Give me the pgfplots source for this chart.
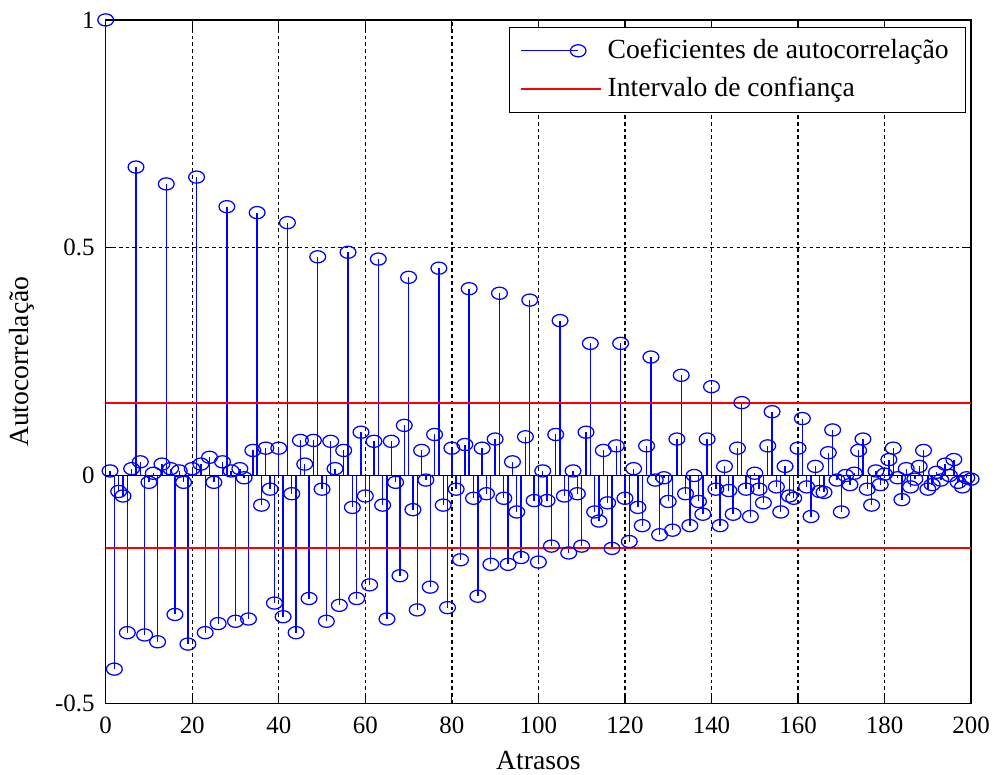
\documentclass[border=0pt]{standalone}
\usepackage{pgfplots}
\usepackage{pgfplotstable}
\usepackage{fontspec}
\setmainfont{Liberation Serif}
\pgfplotsset{compat=1.18}

% lag  autocorrelation
\pgfplotstableread{
x y
0 1.000
1 0.010
2 -0.425
3 -0.035
4 -0.045
5 -0.345
6 0.015
7 0.677
8 0.030
9 -0.350
10 -0.015
11 0.005
12 -0.365
13 0.025
14 0.640
15 0.015
16 -0.305
17 0.010
18 -0.015
19 -0.370
20 0.015
21 0.655
22 0.025
23 -0.345
24 0.040
25 -0.015
26 -0.325
27 0.030
28 0.590
29 0.010
30 -0.320
31 0.015
32 -0.005
33 -0.315
34 0.055
35 0.577
36 -0.065
37 0.060
38 -0.030
39 -0.280
40 0.060
41 -0.310
42 0.555
43 -0.040
44 -0.345
45 0.077
46 0.025
47 -0.270
48 0.077
49 0.480
50 -0.030
51 -0.320
52 0.075
53 0.015
54 -0.285
55 0.055
56 0.490
57 -0.070
58 -0.270
59 0.095
60 -0.045
61 -0.240
62 0.075
63 0.475
64 -0.065
65 -0.315
66 0.075
67 -0.015
68 -0.220
69 0.110
70 0.435
71 -0.075
72 -0.295
73 0.055
74 -0.010
75 -0.245
76 0.090
77 0.455
78 -0.065
79 -0.290
80 0.060
81 -0.030
82 -0.185
83 0.068
84 0.410
85 -0.050
86 -0.265
87 0.060
88 -0.040
89 -0.195
90 0.080
91 0.400
92 -0.050
93 -0.195
94 0.030
95 -0.080
96 -0.180
97 0.085
98 0.385
99 -0.055
100 -0.190
101 0.010
102 -0.055
103 -0.155
104 0.090
105 0.340
106 -0.045
107 -0.170
108 0.010
109 -0.040
110 -0.155
111 0.095
112 0.290
113 -0.080
114 -0.100
115 0.055
116 -0.060
117 -0.160
118 0.065
119 0.290
120 -0.050
121 -0.145
122 0.015
123 -0.070
124 -0.110
125 0.065
126 0.260
127 -0.010
128 -0.130
129 -0.005
130 -0.057
131 -0.120
132 0.080
133 0.220
134 -0.040
135 -0.110
136 0.000
137 -0.057
138 -0.085
139 0.080
140 0.195
141 -0.030
142 -0.110
143 0.020
144 -0.033
145 -0.085
146 0.060
147 0.160
148 -0.030
149 -0.090
150 0.005
151 -0.030
152 -0.060
153 0.065
154 0.140
155 -0.025
156 -0.080
157 0.020
158 -0.045
159 -0.050
160 0.060
161 0.125
162 -0.025
163 -0.090
164 0.020
165 -0.035
166 -0.037
167 0.050
168 0.100
169 -0.010
170 -0.080
171 0.000
172 -0.020
173 0.005
174 0.055
175 0.080
176 -0.030
177 -0.065
178 0.010
179 -0.020
180 0.003
181 0.035
182 0.060
183 -0.005
184 -0.053
185 0.015
186 -0.025
187 -0.008
188 0.020
189 0.055
190 -0.030
191 -0.020
192 0.007
193 -0.010
194 0.025
195 0.000
196 0.035
197 -0.015
198 -0.025
199 -0.005
200 -0.008
}\acf

\definecolor{ciRed}{RGB}{255,0,0}

\begin{document}
\begin{tikzpicture}
\begin{axis}[
  width=312.8pt, height=247pt,
  scale only axis,
  xmin=0, xmax=200, ymin=-0.5, ymax=1,
  xtick={0,20,...,200},
  ytick={-0.5,0,0.5,1},
  yticklabels={-0.5,0,0.5,1},
  /pgf/number format/assume math mode=true,
  ticklabel style={font=\fontsize{9}{11}\selectfont},
  xticklabel style={yshift=-1.5pt},
  yticklabel style={xshift=-0.5pt},
  label style={font=\fontsize{10}{12}\selectfont, inner sep=0pt},
  xlabel={Atrasos},
  ylabel={Autocorrelação},
  xlabel style={at={(axis description cs:0.5,-0.083)}, anchor=center},
  ylabel style={at={(axis description cs:-0.0967,0.5)}, anchor=center},
  grid=major,
  major grid style={black, line width=0.5pt, dash pattern=on 1.3pt off 1.1pt},
  axis line style={black, line width=0.5pt},
  tick style={black, line width=0.45pt},
  tick align=inside,
  major tick length=3.2pt,
  legend style={
    at={(rel axis cs:0.994,0.99)}, anchor=north east,
    font=\fontsize{10}{12}\selectfont,
    draw=black, fill=white, line width=0.45pt,
    inner xsep=4pt, inner ysep=2.2pt,
    row sep=1.2pt,
    /tikz/every even column/.append style={column sep=2pt},
  },
  legend cell align=left,
]
\addplot[blue, line width=0.5pt, ycomb,
  mark=o, mark size=2.2pt, mark options={solid, blue, line width=0.45pt, xscale=1.3},
  legend image code/.code={
    \draw[blue, line width=0.5pt] (0pt,0pt) -- (20.5pt,0pt);
    \draw[blue, line width=0.45pt] (20.5pt,0pt) ellipse [x radius=2.8pt, y radius=2.2pt];
    \path (28.8pt,0pt);
  }]
  table[x=x, y=y] {\acf};
\addlegendentry{Coeficientes de autocorrelação}

\addplot[ciRed, line width=0.6pt,
  legend image code/.code={\draw[ciRed, line width=0.7pt] (0pt,0pt) -- (28.8pt,0pt);}]
  coordinates {(0,0.1585) (200,0.1585)};
\addlegendentry{Intervalo de confiança}
\addplot[ciRed, line width=0.6pt, forget plot]
  coordinates {(0,-0.1585) (200,-0.1585)};

% stem baseline
\addplot[black, line width=0.5pt, forget plot] coordinates {(0,0) (200,0)};
\end{axis}
% page margins around the axis box
\path ([xshift=-38.2pt,yshift=-25.9pt]current axis.south west)
  rectangle ([xshift=8.6pt,yshift=7.2pt]current axis.north east);
\end{tikzpicture}
\end{document}
